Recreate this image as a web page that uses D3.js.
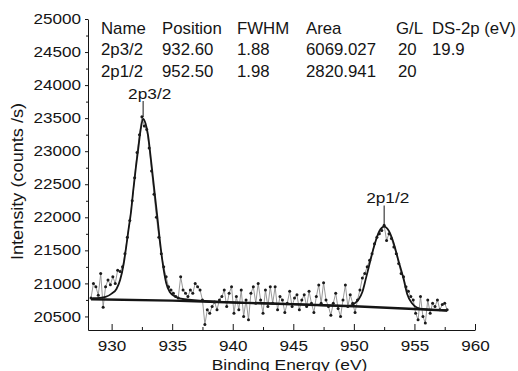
<!DOCTYPE html>
<html>
<head>
<meta charset="utf-8">
<script src="https://cdn.jsdelivr.net/npm/d3@7"></script>
<style>
  body { margin: 0; background: #fff; }
  svg { display: block; font-family: "Liberation Sans", Arial, sans-serif; }
</style>
</head>
<body>
<svg id="xps"></svg>
<script>
// raw spectrum, 0.2 eV step starting at 928.3 eV
const rawStart = 928.3
const rawStep = 0.2
const rawCounts = [
  20780, 21000, 20950, 20820, 21150, 20640, 20950, 21050, 20980, 21100,
  21000, 21200, 21180, 21250, 21450, 21700, 21950, 22250, 22600, 22980,
  23250, 23520, 23380, 23330, 23050, 22700, 22350, 22000, 21700, 21450,
  21250, 21100, 20950, 20900, 20850, 20800, 20780, 21100, 20900, 20850,
  20800, 20900, 20850, 21000, 20950, 20900, 20750, 20380, 20600, 20550,
  20650, 20720, 20600, 20750, 20800, 20900, 20650, 20850, 20950, 20550,
  20800, 20600, 20900, 20500, 20750, 20450, 20850, 20950, 20700, 21000,
  20750, 20550, 20900, 20650, 20950, 20700, 20950, 20600, 20800, 20750,
  20560, 20700, 20880, 20650, 20780, 20830, 20600, 20750, 20830, 20650,
  20880, 20700, 20560, 20800, 20975, 20700, 21010, 20750, 20650, 20520,
  20700, 20850, 20620, 20500, 20750, 20975, 20650, 20830, 20700, 20560,
  20750, 20900, 21080, 21150, 21250, 21350, 21450, 21600, 21700, 21750,
  21800, 21880, 21650, 21750, 21680, 21550, 21450, 21300, 21150, 21100,
  20950, 20880, 20800, 20750, 20550, 20450, 20800, 20500, 20400, 20750,
  20550, 20700, 20650, 20750, 20600, 20680, 20700, 20600
]

// fitted envelope
const fitEnergy = [928.4, 929.0, 929.5, 930.0, 930.4, 930.7, 931.0, 931.2, 931.4, 931.6,
  931.8, 932.0, 932.2, 932.4, 932.6, 932.8, 933.0, 933.2, 933.4, 933.6,
  933.8, 934.0, 934.2, 934.5, 934.8, 935.3, 936.0, 940.0, 945.0, 949.5,
  950.0, 950.4, 950.7, 951.0, 951.3, 951.7, 952.1, 952.5, 952.9, 953.3,
  953.7, 954.1, 954.4, 954.8, 955.2, 955.8, 957.7]
const fitCounts = [20775, 20780, 20795, 20845, 20915, 21050, 21300, 21550, 21820, 22080,
  22430, 22750, 23040, 23330, 23490, 23420, 23250, 22950, 22620, 22290,
  21960, 21620, 21330, 21010, 20870, 20795, 20760, 20712, 20685, 20660,
  20690, 20760, 20870, 21080, 21300, 21580, 21790, 21860, 21790, 21600,
  21330, 21070, 20840, 20700, 20635, 20610, 20590]

// background
const bgEnergy = [928.3, 935, 940, 945, 950, 955, 957.7]
const bgCounts = [20760, 20740, 20712, 20685, 20655, 20612, 20590]

// peak table
const tableHeader = ['Name', 'Position', 'FWHM', 'Area', 'G/L', 'DS-2p (eV)']
const peakNames = ['2p3/2', '2p1/2']
const peakPositions = [932.60, 952.50]
const peakFWHM = [1.88, 1.98]
const peakAreas = [6069.027, 2820.941]
const peakGL = [20, 20]
const splitting = ['19.9', '']
const peakTops = [23500, 21860]

const xTicks = [930, 935, 940, 945, 950, 955, 960]
const xMinor = [932.5, 937.5, 942.5, 947.5, 952.5, 957.5]
const yTicks = [20500, 21000, 21500, 22000, 22500, 23000, 23500, 24000, 24500, 25000]
const yMinor = [20750, 21250, 21750, 22250, 22750, 23250, 23750, 24250, 24750]

const width = 518
const height = 371
const margin = {top: 19, right: 43, bottom: 41, left: 88}

const svg = d3.select('svg#xps')
  .attr('width', width)
  .attr('height', height)
  .attr('viewBox', `0 0 ${width} ${height}`)

svg.append('rect').attr('width', width).attr('height', height).attr('fill', '#fff')

const x = d3.scaleLinear()
  .domain([928.05, 960])
  .range([margin.left, width - margin.right])

const y = d3.scaleLinear()
  .domain([20295, 25000])
  .range([height - margin.bottom, margin.top])

const ink = '#151515'

// stretch text horizontally like the scanned figure
function stretch(sel, sx) {
  sel.each(function () {
    const t = d3.select(this)
    const tx = +t.attr('x') || 0
    const ty = +t.attr('y') || 0
    t.attr('x', 0).attr('y', 0)
      .attr('transform', `translate(${tx},${ty}) scale(${sx},1)`)
  })
}

// axes
const gy = svg.append('g')
  .attr('transform', `translate(${margin.left},0)`)
  .call(d3.axisLeft(y).tickValues(yTicks).tickFormat(d3.format('d'))
    .tickSize(3).tickPadding(4).tickSizeOuter(0))
gy.selectAll('text').attr('font-size', 14.5).attr('fill', ink)
stretch(gy.selectAll('text'), 1.18)

svg.append('g')
  .attr('transform', `translate(${margin.left},0)`)
  .call(d3.axisLeft(y).tickValues(yMinor).tickSize(2).tickFormat(''))
  .call(g => g.select('.domain').remove())

const gx = svg.append('g')
  .attr('transform', `translate(0,${height - margin.bottom})`)
  .call(d3.axisBottom(x).tickValues(xTicks).tickSize(-6).tickPadding(11).tickSizeOuter(0))
gx.selectAll('text').attr('font-size', 14.5).attr('fill', ink)
stretch(gx.selectAll('text'), 1.18)

svg.append('g')
  .attr('transform', `translate(0,${height - margin.bottom})`)
  .call(d3.axisBottom(x).tickValues(xMinor).tickSize(-3).tickFormat(''))
  .call(g => g.select('.domain').remove())

svg.selectAll('.domain, .tick line').attr('stroke', ink)

// axis titles
svg.append('text')
  .attr('transform', `translate(${(x(928.05) + x(960)) / 2 + 8},369.5) scale(1.2,1)`)
  .attr('text-anchor', 'middle')
  .attr('font-size', 14.5)
  .attr('fill', ink)
  .text('Binding Energy (eV)')

svg.append('text')
  .attr('transform', `translate(23,${(y(20295) + y(25000)) / 2 + 7}) rotate(-90) scale(1.1,1)`)
  .attr('text-anchor', 'middle')
  .attr('font-size', 16.5)
  .attr('fill', ink)
  .text('Intensity (counts /s)')

// data
const raw = rawCounts.map((c, i) => ({e: rawStart + i * rawStep, c}))
const fit = fitEnergy.map((e, i) => ({e, c: fitCounts[i]}))
const bg = bgEnergy.map((e, i) => ({e, c: bgCounts[i]}))

const line = d3.line().x(d => x(d.e)).y(d => y(d.c))

svg.append('path')
  .datum(raw)
  .attr('d', line)
  .attr('fill', 'none')
  .attr('stroke', '#8c8c8c')
  .attr('stroke-width', 0.9)

svg.append('path')
  .datum(bg)
  .attr('d', line)
  .attr('fill', 'none')
  .attr('stroke', ink)
  .attr('stroke-width', 2.4)

svg.append('path')
  .datum(fit)
  .attr('d', d3.line().curve(d3.curveMonotoneX).x(d => x(d.e)).y(d => y(d.c)))
  .attr('fill', 'none')
  .attr('stroke', ink)
  .attr('stroke-width', 1.8)

svg.append('g')
  .selectAll('circle')
  .data(raw)
  .join('circle')
    .attr('cx', d => x(d.e))
    .attr('cy', d => y(d.c))
    .attr('r', 1.5)
    .attr('fill', '#1a1a1a')

// peak labels with leader lines
const labelOffsets = [-15, -18]
const labelBaselines = [98.5, 203]
peakNames.forEach((name, i) => {
  svg.append('line')
    .attr('x1', x(peakPositions[i])).attr('x2', x(peakPositions[i]))
    .attr('y1', labelBaselines[i] + 2.5)
    .attr('y2', y(peakTops[i]) - 1)
    .attr('stroke', ink)
    .attr('stroke-width', 1)
  svg.append('text')
    .attr('transform', `translate(${x(peakPositions[i]) + labelOffsets[i]},${labelBaselines[i]}) scale(1.15,1)`)
    .attr('font-size', 15)
    .attr('fill', ink)
    .text(name)
})

// fit table
const colX = [101, 162, 237, 306, 396, 432]
const rowY = [34, 55, 76.5]
const rows = [tableHeader].concat(peakNames.map((n, i) => [
  n, peakPositions[i].toFixed(2), peakFWHM[i].toFixed(2), peakAreas[i].toFixed(3), String(peakGL[i]), splitting[i]
]))
rows.forEach((r, ri) => {
  r.forEach((cell, ci) => {
    svg.append('text')
      .attr('transform', `translate(${colX[ci] + (ri > 0 && ci === 4 ? 2 : 0)},${rowY[ri]}) scale(1.05,1)`)
      .attr('font-size', 16)
      .attr('fill', ink)
      .text(cell)
  })
})
</script>
</body>
</html>
